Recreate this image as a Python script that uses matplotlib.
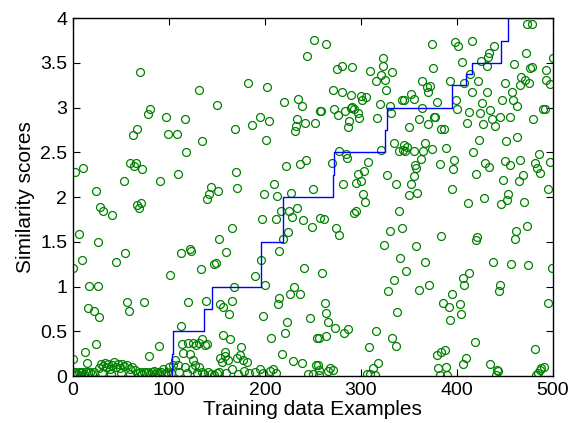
import numpy as np
import matplotlib
matplotlib.use("Agg")
import matplotlib.pyplot as plt

# Gold-standard step line (breakpoints)
step_x = [0, 103, 104, 105, 137, 145, 196, 198, 219, 271, 272, 325, 327, 395, 410, 412, 416, 446, 448, 453, 500]
step_y = [0, 0.25, 0.5, 0.5, 0.75, 1.0, 1.5, 1.5, 2.0, 2.25, 2.5, 2.75, 3.0, 3.25, 3.38, 3.38, 3.5, 3.75, 3.75, 4.0, 4.0]

# Predicted similarity scores (circles), grouped by region of the chart
top_a_x = [69.8, 79.9, 78, 96.9, 117, 66.3, 99, 108, 62.5]
top_a_y = [3.40, 2.99, 2.93, 2.90, 2.87, 2.76, 2.70, 2.70, 2.69]

top_b_x = [251, 244, 131, 182, 202, 150, 220, 235, 238.5, 257,
           195, 204, 187, 169, 233, 242, 252, 232, 231.6]
top_b_y = [3.76, 3.58, 3.20, 3.27, 3.23, 3.03, 3.06, 3.10, 3.02, 2.96,
           2.89, 2.85, 2.81, 2.76, 2.87, 2.83, 2.83, 2.79, 2.74]

top_c_x = [264, 374, 323, 322.6, 275, 280, 291, 310, 321, 332,
           375, 315.6, 325.7, 326, 271.5, 280.5, 289.6, 363.5, 368.7, 372,
           370, 300.7, 305, 301, 352.8, 344.8, 343.4, 355, 379, 320,
           330, 331, 364, 259, 272, 276, 284, 291, 293, 290,
           297, 298.6, 287.8, 286.8, 317, 349.7, 360.7, 370.5, 376, 377,
           384]
top_c_y = [3.71, 3.71, 3.55, 3.46, 3.43, 3.46, 3.45, 3.41, 3.37, 3.40,
           3.44, 3.30, 3.31, 3.20, 3.20, 3.17, 3.14, 3.30, 3.23, 3.24,
           3.18, 3.13, 3.12, 3.08, 3.15, 3.09, 3.08, 3.10, 3.06, 3.04,
           3.02, 2.94, 3.00, 2.96, 2.99, 2.92, 2.96, 3.01, 2.98, 3.00,
           2.94, 2.88, 2.85, 2.78, 2.88, 2.78, 2.87, 2.82, 2.90, 2.89,
           2.76]

top_d_x = [473, 478, 398, 401, 415.6, 438.5, 433.7, 432, 425, 431.6,
           405, 472, 459.7, 500, 414, 476.7, 478.4, 492.7, 393, 407,
           422.6, 450, 467, 471, 466, 475, 493, 497, 416, 431,
           457.6, 399.6, 400, 447.6, 458.7, 462.8, 426.7, 435, 413, 424.7,
           437, 445.5, 455.5, 410.7, 427.8, 439.6, 479.5, 490, 492, 386.5]
top_d_y = [3.93, 3.94, 3.73, 3.69, 3.75, 3.69, 3.61, 3.57, 3.52, 3.47,
           3.51, 3.61, 3.49, 3.56, 3.38, 3.44, 3.45, 3.42, 3.30, 3.27,
           3.30, 3.28, 3.34, 3.31, 3.25, 3.27, 3.31, 3.26, 3.17, 3.18,
           3.18, 3.08, 2.99, 3.09, 3.08, 3.02, 3.05, 2.97, 2.95, 2.94,
           2.87, 2.90, 2.90, 2.83, 2.82, 2.79, 2.87, 2.98, 2.98, 2.76]

mid_a_x = [117.7, 2, 10.8, 59.4, 65.6, 63.9, 71.5, 110, 53.5, 91,
           24, 67, 71, 69, 28, 31, 40.6, 6, 26, 54.5,
           113, 122, 123]
mid_a_y = [2.50, 2.28, 2.33, 2.38, 2.38, 2.35, 2.31, 2.26, 2.18, 2.18,
           2.07, 1.91, 1.93, 1.88, 1.89, 1.84, 1.80, 1.59, 1.50, 1.37,
           1.37, 1.42, 1.40]

mid_b_x = [134, 201, 222, 236.5, 243, 170, 143.8, 142, 139.6, 151,
           171, 210, 199, 213, 227, 250, 217, 225, 233.6, 228.4,
           197, 212, 240, 249, 257, 166, 224, 152, 219, 160,
           215]
mid_b_y = [2.63, 2.64, 2.35, 2.37, 2.42, 2.28, 2.11, 2.04, 1.98, 2.07,
           2.10, 2.15, 2.04, 2.01, 2.05, 2.09, 1.84, 1.85, 1.88, 1.78,
           1.76, 1.76, 1.74, 1.67, 1.77, 1.65, 1.61, 1.53, 1.53, 1.39,
           1.40]

mid_c_x = [334.7, 345, 348, 340, 346, 344, 355, 367, 374, 365,
           362.5, 321.5, 277.4, 284.4, 285.4, 269.5, 308, 356, 358, 355,
           352.8, 382, 303, 296.6, 300, 295, 281, 327.4, 337, 350.7,
           359, 302.4, 304.5, 293, 295.5, 339.6, 261.5, 274, 277.4, 330.5,
           342.4, 383.6, 324.3, 358]
mid_c_y = [2.61, 2.58, 2.56, 2.52, 2.51, 2.53, 2.51, 2.61, 2.54, 2.52,
           2.43, 2.53, 2.51, 2.48, 2.44, 2.38, 2.39, 2.36, 2.32, 2.24,
           2.15, 2.37, 2.29, 2.26, 2.18, 2.16, 2.15, 2.25, 2.15, 2.02,
           2.05, 2.04, 1.94, 1.82, 1.84, 1.85, 1.76, 1.65, 1.58, 1.62,
           1.65, 1.56, 1.47, 1.45]

mid_d_x = [463, 451.7, 423, 389, 417, 485.7, 397, 396, 429.5, 434,
           450.7, 455, 465.6, 481, 483.7, 486.8, 497, 419.8, 469, 464.6,
           448, 395, 453.5, 452.8, 446.5, 428.5, 411.8, 469.8, 495.5, 473.6,
           461.8, 460.7, 421.2, 420.5]
mid_d_y = [2.67, 2.63, 2.64, 2.55, 2.50, 2.48, 2.41, 2.31, 2.38, 2.34,
           2.40, 2.36, 2.41, 2.38, 2.32, 2.27, 2.39, 2.26, 2.25, 2.18,
           2.19, 2.09, 2.04, 1.97, 1.92, 1.99, 1.93, 1.94, 2.09, 1.68,
           1.62, 1.53, 1.55, 1.52]

low_a_x = [0.3, 9, 44.5, 101, 17, 25.7, 56, 58.6, 73.6, 119.5,
           16, 21.5, 27.4, 113, 23.6, 13, 0.3, 15, 89.6, 79,
           114, 120, 125, 115, 122, 125, 106, 109.7]
low_a_y = [1.21, 1.30, 1.27, 1.13, 1.01, 1.01, 0.83, 0.73, 0.83, 0.83,
           0.76, 0.73, 0.66, 0.56, 0.36, 0.27, 0.19, 0.15, 0.34, 0.22,
           0.36, 0.37, 0.37, 0.26, 0.25, 0.18, 0.18, 0.12]

low_b_x = [196, 133, 147, 149, 190, 200, 167.7, 241, 230, 226,
           236.5, 215, 214, 139, 153, 156, 166, 163, 197.6, 247,
           223, 221.5, 206, 254.5, 156.6, 163.5, 135, 137.5, 128, 174.7,
           218, 229, 239, 253]
low_b_y = [1.30, 1.20, 1.25, 1.26, 1.12, 1.02, 1.00, 1.21, 1.00, 0.92,
           0.92, 0.87, 0.80, 0.84, 0.81, 0.77, 0.84, 0.69, 0.67, 0.65,
           0.60, 0.48, 0.42, 0.42, 0.46, 0.41, 0.41, 0.35, 0.35, 0.32,
           0.25, 0.17, 0.15, 0.12]

low_c_x = [340.6, 366.7, 347.6, 260, 334.7, 328.5, 360.4, 371.5, 385.7, 262.5,
           263.5, 338, 266, 273.6, 282, 286.8, 256, 264, 316, 333,
           336.5, 309, 318, 313, 306, 310, 315, 255, 256.5, 256,
           268, 271, 266, 379, 384, 387.5, 380.5, 382]
low_c_y = [1.32, 1.27, 1.17, 1.15, 1.07, 0.95, 0.96, 1.02, 0.82, 0.82,
           0.71, 0.72, 0.60, 0.54, 0.48, 0.53, 0.42, 0.45, 0.50, 0.43,
           0.34, 0.32, 0.15, 0.09, 0.02, 0.02, 0.01, 0.12, 0.07, 0.01,
           0.09, 0.07, 0.06, 0.23, 0.27, 0.29, 0.09, 0.01]

low_d_x = [437.8, 456, 474.7, 499, 412.8, 406, 408, 444.8, 443.7, 394.5,
           392, 403, 404, 392.7, 494.8, 418.8, 481.6, 409.4, 406.6, 435,
           442, 443.4, 440.6, 388.5, 390, 490.6, 488, 486.5, 484.7, 482.3]
low_d_y = [1.28, 1.25, 1.24, 1.21, 1.15, 1.10, 1.02, 1.02, 0.95, 0.92,
           0.77, 0.81, 0.69, 0.63, 0.82, 0.38, 0.30, 0.20, 0.14, 0.14,
           0.07, 0.06, 0.01, 0.10, 0.01, 0.10, 0.09, 0.07, 0.03, 0.01]

# dense band of near-zero predictions
band_a_x = [0.5, 2, 4, 6, 8, 10, 12, 14, 16, 18,
            20, 22, 27, 29, 31, 33, 35, 37, 39, 41,
            43, 45, 47, 49, 51, 53, 56, 59, 62, 65,
            30, 40, 50, 60, 68, 70, 72, 74, 76, 78,
            80, 82, 84, 86, 88, 90, 92, 94, 96, 98,
            100, 102, 104]
band_a_y = [0.03, 0.05, 0.02, 0.04, 0.03, 0.05, 0.02, 0.04, 0.03, 0.05,
            0.02, 0.04, 0.09, 0.13, 0.11, 0.15, 0.10, 0.14, 0.08, 0.12,
            0.16, 0.10, 0.13, 0.09, 0.14, 0.11, 0.12, 0.08, 0.10, 0.07,
            0.03, 0.02, 0.03, 0.02, 0.03, 0.05, 0.02, 0.04, 0.03, 0.05,
            0.02, 0.04, 0.06, 0.02, 0.05, 0.03, 0.04, 0.08, 0.02, 0.05,
            0.10, 0.03, 0.12]

band_b_x = [111, 117, 119, 124, 127, 129, 131, 134, 137, 141,
            144, 147, 150, 131, 140, 153, 158, 155, 162, 170.5,
            174, 177.4, 181, 158, 152, 160, 166, 172, 178, 184,
            190, 195, 198, 205, 208, 212, 245, 250]
band_b_y = [0.05, 0.10, 0.03, 0.08, 0.12, 0.03, 0.10, 0.05, 0.02, 0.04,
            0.02, 0.01, 0.03, 0.37, 0.36, 0.20, 0.22, 0.16, 0.18, 0.20,
            0.23, 0.18, 0.16, 0.27, 0.05, 0.03, 0.08, 0.02, 0.06, 0.03,
            0.04, 0.08, 0.03, 0.06, 0.08, 0.03, 0.02, 0.02]

groups_x = [top_a_x, top_b_x, top_c_x, top_d_x, mid_a_x, mid_b_x, mid_c_x, mid_d_x,
            low_a_x, low_b_x, low_c_x, low_d_x, band_a_x, band_b_x]
groups_y = [top_a_y, top_b_y, top_c_y, top_d_y, mid_a_y, mid_b_y, mid_c_y, mid_d_y,
            low_a_y, low_b_y, low_c_y, low_d_y, band_a_y, band_b_y]

x_ticks = [0, 100, 200, 300, 400, 500]
y_ticks = [0, 0.5, 1, 1.5, 2, 2.5, 3, 3.5, 4]
y_tick_labels = ["0", "0.5", "1", "1.5", "2", "2.5", "3", "3.5", "4"]

plt.rcParams['font.family'] = ['Liberation Sans', 'DejaVu Sans']
fig = plt.figure(figsize=(5.74, 4.23), dpi=100)
ax = fig.add_axes([0.127, 0.111, 0.836, 0.846])

for gx, gy in zip(groups_x, groups_y):
    ax.plot(gx, gy, linestyle='none', marker='o', markersize=5.7,
            markerfacecolor='none', markeredgecolor=(0, 0.5, 0), markeredgewidth=0.9)
ax.plot(step_x, step_y, drawstyle='steps-post', color=(0, 0, 1), linewidth=1.0)

ax.set_xlim(0, 500)
ax.set_ylim(0, 4)
ax.set_xticks(x_ticks)
ax.set_yticks(y_ticks)
ax.set_yticklabels(y_tick_labels)
ax.tick_params(direction='in', top=True, right=True, length=5, width=0.8, labelsize=14, pad=4)
for s in ax.spines.values():
    s.set_linewidth(1.0)
ax.set_xlabel('Training data Examples', fontsize=15, labelpad=1)
ax.set_ylabel('Similarity scores', fontsize=15, labelpad=4)

fig.savefig('out.png', dpi=100)
